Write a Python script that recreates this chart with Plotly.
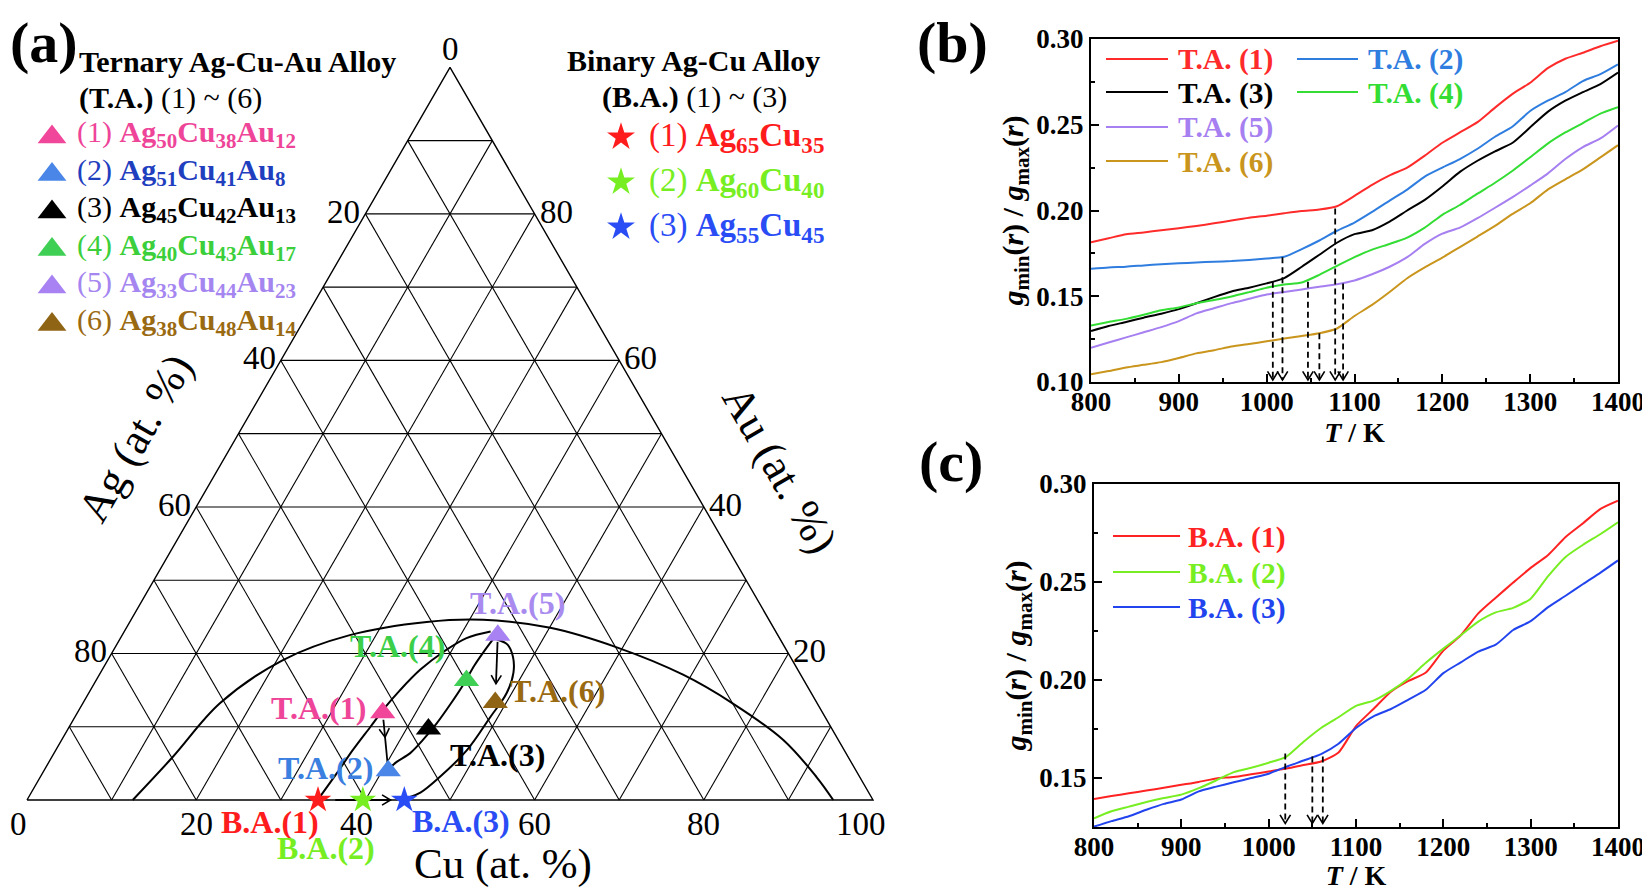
import math
import plotly.graph_objects as go

W, H = 1650, 891          # browser window
OFF = 8                   # default page margin of the html body
FW, FH = W - OFF, H - OFF # figure size so that it fills the window exactly
SERIF = "Liberation Serif, Times New Roman, serif"

# ================= DATA =================
# ---- panel (b): ternary Ag-Cu-Au alloys, g_min/g_max vs T ----
T_K = list(range(800, 1401, 20))
TA1 = [0.1815, 0.1838, 0.1862, 0.1872, 0.1885, 0.1897, 0.1910, 0.1925, 0.1942, 0.1958,
       0.1970, 0.1984, 0.1997, 0.2006, 0.2025, 0.2085, 0.2150, 0.2205, 0.2250, 0.2320,
       0.2395, 0.2455, 0.2515, 0.2600, 0.2680, 0.2745, 0.2830, 0.2885, 0.2920, 0.2958, 0.2990]
TA2 = [0.1660, 0.1668, 0.1672, 0.1680, 0.1687, 0.1692, 0.1697, 0.1701, 0.1705, 0.1712,
       0.1720, 0.1730, 0.1775, 0.1825, 0.1882, 0.1930, 0.1992, 0.2058, 0.2122, 0.2198,
       0.2250, 0.2300, 0.2360, 0.2430, 0.2490, 0.2580, 0.2640, 0.2690, 0.2755, 0.2795, 0.2852]
TA3 = [0.1297, 0.1326, 0.1350, 0.1375, 0.1398, 0.1425, 0.1459, 0.1495, 0.1528, 0.1550,
       0.1575, 0.1606, 0.1672, 0.1742, 0.1812, 0.1862, 0.1885, 0.1935, 0.2000, 0.2062,
       0.2140, 0.2225, 0.2290, 0.2345, 0.2395, 0.2485, 0.2575, 0.2640, 0.2690, 0.2737, 0.2804]
TA4 = [0.1330, 0.1350, 0.1368, 0.1392, 0.1418, 0.1435, 0.1459, 0.1478, 0.1499, 0.1524,
       0.1550, 0.1568, 0.1580, 0.1625, 0.1677, 0.1728, 0.1772, 0.1805, 0.1842, 0.1900,
       0.1975, 0.2032, 0.2098, 0.2162, 0.2232, 0.2310, 0.2390, 0.2455, 0.2510, 0.2565, 0.2602]
TA5 = [0.1200, 0.1230, 0.1260, 0.1290, 0.1320, 0.1355, 0.1400, 0.1430, 0.1460, 0.1485,
       0.1510, 0.1525, 0.1540, 0.1555, 0.1570, 0.1592, 0.1628, 0.1672, 0.1728, 0.1805,
       0.1865, 0.1900, 0.1955, 0.2016, 0.2078, 0.2145, 0.2215, 0.2300, 0.2370, 0.2420, 0.2496]
TA6 = [0.1045, 0.1064, 0.1085, 0.1100, 0.1116, 0.1140, 0.1167, 0.1185, 0.1207, 0.1222,
       0.1237, 0.1253, 0.1268, 0.1284, 0.1312, 0.1385, 0.1450, 0.1525, 0.1605, 0.1668,
       0.1725, 0.1787, 0.1848, 0.1910, 0.1980, 0.2042, 0.2122, 0.2182, 0.2240, 0.2310, 0.2381]
TA_SERIES = [TA1, TA2, TA3, TA4, TA5, TA6]
TA_NAMES = ["T.A. (1)", "T.A. (2)", "T.A. (3)", "T.A. (4)", "T.A. (5)", "T.A. (6)"]
TA_LINE_COLORS = ["#ff2a2a", "#2f7ddf", "#000000", "#33dd33", "#a67ff0", "#c9951c"]
TA_TRANS_T = [1078, 1018, 1007, 1047, 1087, 1060]
TA_TRANS_V = [0.2012, 0.1727, 0.1585, 0.1585, 0.1575, 0.1284]

# ---- panel (c): binary Ag-Cu alloys ----
BA1 = [0.1393, 0.1408, 0.1422, 0.1436, 0.1450, 0.1465, 0.1480, 0.1498, 0.1505, 0.1519,
       0.1533, 0.1548, 0.1566, 0.1584, 0.1630, 0.1765, 0.1852, 0.1940, 0.1995, 0.2038,
       0.2150, 0.2228, 0.2340, 0.2420, 0.2497, 0.2572, 0.2638, 0.2730, 0.2800, 0.2873, 0.2915]
BA2 = [0.1294, 0.1330, 0.1354, 0.1378, 0.1398, 0.1415, 0.1448, 0.1488, 0.1530, 0.1552,
       0.1578, 0.1608, 0.1685, 0.1755, 0.1810, 0.1868, 0.1895, 0.1945, 0.2008, 0.2088,
       0.2160, 0.2228, 0.2298, 0.2345, 0.2368, 0.2415, 0.2530, 0.2628, 0.2690, 0.2745, 0.2805]
BA3 = [0.1252, 0.1280, 0.1305, 0.1338, 0.1368, 0.1390, 0.1432, 0.1456, 0.1478, 0.1500,
       0.1522, 0.1557, 0.1589, 0.1622, 0.1675, 0.1755, 0.1815, 0.1852, 0.1900, 0.1950,
       0.2035, 0.2090, 0.2145, 0.2180, 0.2255, 0.2300, 0.2372, 0.2430, 0.2490, 0.2548, 0.2610]
BA_SERIES = [BA1, BA2, BA3]
BA_NAMES = ["B.A. (1)", "B.A. (2)", "B.A. (3)"]
BA_LINE_COLORS = ["#ff2222", "#77ee22", "#2244ee"]
BA_TRANS_T = [1062, 1019, 1050]
BA_TRANS_V = [0.161, 0.1625, 0.161]

# ---- panel (a): ternary composition map (Cu %, Au %) ----
GRID_LEVELS = [10, 20, 30, 40, 50, 60, 70, 80, 90]
AG_TICKS = [20, 40, 60, 80]
CU_TICKS = [0, 20, 40, 60, 80, 100]
AU_TICKS = [20, 40, 60, 80]
TA_CU = [36.1, 40.7, 42.6, 43.8, 44.4, 48.7]
TA_AU = [11.9, 4.0, 9.7, 16.3, 22.5, 13.3]
TA_MARK_COLORS = ["#f0479a", "#4a86e8", "#000000", "#3fcf55", "#a882f2", "#8f6415"]
TA_TEXT_COLORS = ["#ee4599", "#1f3fbf", "#000000", "#3ccf3c", "#a586f0", "#9a6a12"]
TA_MAP_COLORS = ["#ee4599", "#3b7fe0", "#000000", "#3ccf4a", "#a98bf0", "#9a6a12"]
TA_FORMULA = ["Ag<sub>50</sub>Cu<sub>38</sub>Au<sub>12</sub>",
              "Ag<sub>51</sub>Cu<sub>41</sub>Au<sub>8</sub>",
              "Ag<sub>45</sub>Cu<sub>42</sub>Au<sub>13</sub>",
              "Ag<sub>40</sub>Cu<sub>43</sub>Au<sub>17</sub>",
              "Ag<sub>33</sub>Cu<sub>44</sub>Au<sub>23</sub>",
              "Ag<sub>38</sub>Cu<sub>48</sub>Au<sub>14</sub>"]
BA_CU = [34.4, 39.7, 44.6]
BA_AU = [0.0, 0.0, 0.0]
BA_MARK_COLORS = ["#ff1c1c", "#77ee22", "#2a4cf5"]
BA_FORMULA = ["Ag<sub>65</sub>Cu<sub>35</sub>",
              "Ag<sub>60</sub>Cu<sub>40</sub>",
              "Ag<sub>55</sub>Cu<sub>45</sub>"]
# guide curves on the composition map
DOME_CU = [12.5, 14.3, 16.2, 20.7, 26.9, 35.1, 41.6, 50.1, 59.4, 69.0, 76.8, 85.3, 91.8, 95.3]
DOME_AU = [0.0, 5.9, 13.2, 19.1, 22.5, 24.3, 24.6, 23.5, 20.8, 17.1, 13.2, 8.2, 3.1, 0.0]
PATH1_CU = [34.4, 34.8, 35.1, 35.6, 36.0, 36.6, 37.6, 39.1, 40.9, 43.3]
PATH1_AU = [0.4, 3.7, 6.8, 10.0, 12.6, 15.0, 17.8, 20.2, 22.1, 23.0]
PATH2_CU = [40.7, 41.1, 42.1, 42.7, 43.2, 43.5, 43.7, 43.7, 43.9, 44.1]
PATH2_AU = [4.4, 5.2, 6.4, 8.2, 10.5, 13.0, 15.7, 18.4, 20.5, 21.9]
PATH3_CU = [44.9, 46.0, 47.2, 48.6, 49.1, 49.4, 48.8, 47.7, 46.2, 44.6]
PATH3_AU = [0.3, 1.0, 3.1, 6.8, 11.3, 14.6, 17.4, 19.5, 21.2, 21.9]

# ================= HELPERS =================
SQ3 = math.sqrt(3) / 2
TX0, TY0, TK = 27.0, 800.0, 8.46  # page-pixel origin and px-per-unit of panel (a)


def tern(cu, au):
    return cu + au / 2.0, au * SQ3


def a_x(px):
    return (px - TX0) / TK


def a_y(py):
    return (TY0 - py) / TK


def fx(px):   # page pixel -> paper x
    return (px - OFF) / FW


def fy(py):   # page pixel -> paper y
    return 1 - (py - OFF) / FH


fig = go.Figure()

# ---------- panel (b) ----------
for vals, col in zip(TA_SERIES, TA_LINE_COLORS):
    fig.add_trace(go.Scatter(x=T_K, y=vals, mode="lines", xaxis="x", yaxis="y",
                             line=dict(color=col, width=2, shape="spline", smoothing=0.6),
                             showlegend=False, hoverinfo="skip"))


def add_drop_arrows(ts, vs, xa, ya, bottom, head_h, head_w):
    for t0, v0 in zip(ts, vs):
        fig.add_trace(go.Scatter(x=[t0, t0], y=[v0, bottom], mode="lines", xaxis=xa, yaxis=ya,
                                 line=dict(color="black", width=1.8, dash="6px,4px"),
                                 showlegend=False, hoverinfo="skip"))
        fig.add_trace(go.Scatter(x=[t0 - head_w, t0, t0 + head_w],
                                 y=[bottom + head_h, bottom, bottom + head_h],
                                 mode="lines", xaxis=xa, yaxis=ya,
                                 line=dict(color="black", width=1.6),
                                 showlegend=False, hoverinfo="skip"))


add_drop_arrows(TA_TRANS_T, TA_TRANS_V, "x", "y", 0.1012, 0.0050, 6.0)

# ---------- panel (c) ----------
for vals, col in zip(BA_SERIES, BA_LINE_COLORS):
    fig.add_trace(go.Scatter(x=T_K, y=vals, mode="lines", xaxis="x2", yaxis="y2",
                             line=dict(color=col, width=2, shape="spline", smoothing=0.6),
                             showlegend=False, hoverinfo="skip"))
add_drop_arrows(BA_TRANS_T, BA_TRANS_V, "x2", "y2", 0.1268, 0.0044, 6.0)

# ---------- panel (a) ----------
gx, gy = [], []


def seg(p, q):
    gx.extend([p[0], q[0], None])
    gy.extend([p[1], q[1], None])


for lv in GRID_LEVELS:
    seg(tern(0, lv), tern(100 - lv, lv))        # constant Au
    seg(tern(lv, 0), tern(lv, 100 - lv))        # constant Cu
    seg(tern(100 - lv, 0), tern(0, 100 - lv))   # constant Ag
fig.add_trace(go.Scatter(x=gx, y=gy, mode="lines", xaxis="x3", yaxis="y3",
                         line=dict(color="black", width=1.1), showlegend=False, hoverinfo="skip"))
corners = [tern(0, 0), tern(100, 0), tern(0, 100), tern(0, 0)]
fig.add_trace(go.Scatter(x=[c[0] for c in corners], y=[c[1] for c in corners], mode="lines",
                         xaxis="x3", yaxis="y3", line=dict(color="black", width=1.4),
                         showlegend=False, hoverinfo="skip"))

for cus, aus in [(DOME_CU, DOME_AU), (PATH1_CU, PATH1_AU), (PATH2_CU, PATH2_AU), (PATH3_CU, PATH3_AU)]:
    pts = [tern(c, a) for c, a in zip(cus, aus)]
    fig.add_trace(go.Scatter(x=[p[0] for p in pts], y=[p[1] for p in pts], mode="lines",
                             xaxis="x3", yaxis="y3",
                             line=dict(color="black", width=2, shape="spline", smoothing=1.0),
                             showlegend=False, hoverinfo="skip"))


def arrow_between(p1, p2, f0, f1, ftip):
    dx, dy = p2[0] - p1[0], p2[1] - p1[1]
    s = (p1[0] + dx * f0, p1[1] + dy * f0)
    e = (p1[0] + dx * f1, p1[1] + dy * f1)
    tip = (p1[0] + dx * ftip, p1[1] + dy * ftip)
    ln = math.hypot(dx, dy)
    ux, uy = dx / ln, dy / ln
    nx, ny = -uy, ux
    L, Wd = 1.0, 0.6
    fig.add_trace(go.Scatter(x=[s[0], e[0]], y=[s[1], e[1]], mode="lines", xaxis="x3", yaxis="y3",
                             line=dict(color="black", width=1.8), showlegend=False, hoverinfo="skip"))
    fig.add_trace(go.Scatter(x=[tip[0] - L * ux + Wd * nx, tip[0], tip[0] - L * ux - Wd * nx],
                             y=[tip[1] - L * uy + Wd * ny, tip[1], tip[1] - L * uy - Wd * ny],
                             mode="lines", xaxis="x3", yaxis="y3",
                             line=dict(color="black", width=1.6), showlegend=False, hoverinfo="skip"))


ta_pts = [tern(c, a) for c, a in zip(TA_CU, TA_AU)]
ba_pts = [tern(c, a) for c, a in zip(BA_CU, BA_AU)]
arrow_between(ta_pts[0], ta_pts[1], 0.12, 0.85, 0.42)
arrow_between(ta_pts[4], ta_pts[5], 0.10, 0.72, 0.72)
arrow_between(ba_pts[0], ba_pts[2], 0.20, 0.84, 0.84)

fig.add_trace(go.Scatter(x=[p[0] for p in ta_pts], y=[p[1] for p in ta_pts], mode="markers",
                         xaxis="x3", yaxis="y3",
                         marker=dict(symbol="triangle-up", size=22, color=TA_MARK_COLORS, line=dict(width=0)),
                         showlegend=False, hoverinfo="skip"))
fig.add_trace(go.Scatter(x=[p[0] for p in ba_pts], y=[p[1] for p in ba_pts], mode="markers",
                         xaxis="x3", yaxis="y3",
                         marker=dict(symbol="star", size=20, color=BA_MARK_COLORS, line=dict(width=0)),
                         showlegend=False, hoverinfo="skip"))

# legend markers of panel (a)
TA_ROW0, TA_ROW_STEP = 134.0, 37.5
BA_ROW0, BA_ROW_STEP = 137.0, 45.0
fig.add_trace(go.Scatter(x=[a_x(52)] * 6, y=[a_y(TA_ROW0 + i * TA_ROW_STEP + 3) for i in range(6)],
                         mode="markers", xaxis="x3", yaxis="y3",
                         marker=dict(symbol="triangle-up", size=25, color=TA_MARK_COLORS, line=dict(width=0)),
                         showlegend=False, hoverinfo="skip"))
fig.add_trace(go.Scatter(x=[a_x(621)] * 3, y=[a_y(BA_ROW0 + i * BA_ROW_STEP) for i in range(3)],
                         mode="markers", xaxis="x3", yaxis="y3",
                         marker=dict(symbol="star", size=21, color=BA_MARK_COLORS, line=dict(width=0)),
                         showlegend=False, hoverinfo="skip"))

# ================= ANNOTATIONS =================
ann = []


def ann_a(px, py, text, size, color="black", xa="center", ya="middle", angle=0):
    ann.append(dict(x=a_x(px), y=a_y(py), xref="x3", yref="y3", text=text, showarrow=False,
                    font=dict(family=SERIF, size=size, color=color), xanchor=xa, yanchor=ya,
                    textangle=angle))


def ann_d(pt, text, size, xa, ya, xs=0, ys=0):
    ann.append(dict(x=pt[0], y=pt[1], xref="x3", yref="y3", text=text, showarrow=False,
                    font=dict(family=SERIF, size=size, color="black"), xanchor=xa, yanchor=ya,
                    xshift=xs, yshift=ys))


def ann_p(px, py, text, size, color="black", xa="left", ya="middle"):
    ann.append(dict(x=fx(px), y=fy(py), xref="paper", yref="paper", text=text, showarrow=False,
                    font=dict(family=SERIF, size=size, color=color), xanchor=xa, yanchor=ya))


# ternary tick labels
TICK_FS = 33
for g in AG_TICKS:
    ann_d(tern(0, 100 - g), str(g), TICK_FS, "right", "middle", xs=-3, ys=2)
ann_d(tern(0, 100), "0", TICK_FS, "center", "bottom", ys=-2)
CU_SHIFT = {0: -9, 40: -9, 100: -12}
for c in CU_TICKS:
    ann_d(tern(c, 0), str(c), TICK_FS, "center", "top", xs=CU_SHIFT.get(c, 0), ys=-4)
for a in AU_TICKS:
    ann_d(tern(100 - a, a), str(a), TICK_FS, "left", "middle", xs=3, ys=2)

# ternary axis titles
ann_a(135, 438, "Ag (at. %)", 44, angle=-60)
ann_a(780, 469, "Au (at. %)", 44, angle=60)
ann_a(503, 864, "Cu (at. %)", 43)

# point labels on the map
MAP_LABELS = [("T.A.(1)", 318, 708, TA_MAP_COLORS[0]), ("T.A.(2)", 325, 768, TA_MAP_COLORS[1]),
              ("T.A.(3)", 497, 755, TA_MAP_COLORS[2]), ("T.A.(4)", 397, 646, TA_MAP_COLORS[3]),
              ("T.A.(5)", 517, 603, TA_MAP_COLORS[4]), ("T.A.(6)", 557, 691, TA_MAP_COLORS[5]),
              ("B.A.(1)", 270, 822, BA_MARK_COLORS[0]), ("B.A.(2)", 326, 848, BA_MARK_COLORS[1]),
              ("B.A.(3)", 461, 821, BA_MARK_COLORS[2])]
for txt, px, py, col in MAP_LABELS:
    ann_a(px, py, "<b>%s</b>" % txt, 32, col)

# panel (a) legends
ann_a(77, 61, "<b>Ternary Ag-Cu-Au Alloy</b>", 30, xa="left")
ann_a(77, 98, "<b>(T.A.)</b> (1) ~ (6)", 30, xa="left")
for i in range(6):
    ann_a(75, TA_ROW0 + i * TA_ROW_STEP, "(%d) <b>%s</b>" % (i + 1, TA_FORMULA[i]), 30,
          TA_TEXT_COLORS[i], xa="left")
ann_a(565, 60, "<b>Binary Ag-Cu Alloy</b>", 30, xa="left")
ann_a(600, 97, "<b>(B.A.)</b> (1) ~ (3)", 30, xa="left")
for i in range(3):
    ann_a(647, BA_ROW0 + i * BA_ROW_STEP, "(%d) <b>%s</b>" % (i + 1, BA_FORMULA[i]), 33,
          BA_MARK_COLORS[i], xa="left")

# panel labels
ann_p(8, 8, "<b>(a)</b>", 58, ya="top")
ann_p(915, 8, "<b>(b)</b>", 58, ya="top")
ann_p(917, 427, "<b>(c)</b>", 58, ya="top")

# legends of panels (b) and (c)
shapes = []
LEG_B = [(1106, 1168, 1176, 59), (1297, 1358, 1366, 59), (1106, 1168, 1176, 92),
         (1297, 1358, 1366, 92), (1106, 1168, 1176, 127), (1106, 1168, 1176, 161)]
for (x0, x1, xt, yy), name, col in zip(LEG_B, TA_NAMES, TA_LINE_COLORS):
    shapes.append(dict(type="line", xref="paper", yref="paper", x0=fx(x0), x1=fx(x1),
                       y0=fy(yy), y1=fy(yy), line=dict(color=col, width=2)))
    ann_p(xt, yy + 1, "<b>%s</b>" % name, 29.5, col)
LEG_C = [(1113, 1180, 1186, 536), (1113, 1180, 1186, 572), (1113, 1180, 1186, 607)]
for (x0, x1, xt, yy), name, col in zip(LEG_C, BA_NAMES, BA_LINE_COLORS):
    shapes.append(dict(type="line", xref="paper", yref="paper", x0=fx(x0), x1=fx(x1),
                       y0=fy(yy), y1=fy(yy), line=dict(color=col, width=2)))
    ann_p(xt, yy + 1, "<b>%s</b>" % name, 29.5, col)

# ================= AXES =================
YTITLE = "<b><i>g</i><sub>min</sub>(<i>r</i>) / <i>g</i><sub>max</sub>(<i>r</i>)</b>"
TICKFONT = dict(family=SERIF, size=27, color="black", weight="bold")


def xax(domain, anchor):
    return dict(domain=domain, anchor=anchor, range=[800, 1400], tick0=800, dtick=100,
                ticks="inside", ticklen=8, tickwidth=2, tickcolor="black", ticklabelstandoff=-5,
                minor=dict(ticks="inside", ticklen=4, tickwidth=1.5, tickcolor="black",
                           dtick=50, tick0=800),
                showline=True, linewidth=2, linecolor="black", mirror=True, automargin=False,
                showgrid=False, zeroline=False, tickfont=TICKFONT,
                title=dict(text="<b><i>T</i> / K</b>", font=dict(family=SERIF, size=28, color="black"),
                           standoff=3))


def yax(domain, anchor, rng):
    return dict(domain=domain, anchor=anchor, range=rng, tick0=0.10, dtick=0.05, tickformat=".2f",
                ticks="inside", ticklen=8, tickwidth=2, tickcolor="black",
                minor=dict(ticks="inside", ticklen=4, tickwidth=1.5, tickcolor="black",
                           dtick=0.025, tick0=0.10),
                showline=True, linewidth=2, linecolor="black", mirror=True, automargin=False,
                showgrid=False, zeroline=False, tickfont=TICKFONT,
                title=dict(text=YTITLE, font=dict(family=SERIF, size=30, color="black"), standoff=4))


fig.update_layout(
    template="none",
    width=FW, height=FH, margin=dict(l=0, r=0, t=0, b=0, pad=0, autoexpand=False),
    paper_bgcolor="white", plot_bgcolor="rgba(0,0,0,0)", showlegend=False,
    font=dict(family=SERIF, color="black"),
    xaxis=xax([fx(1091), fx(1618)], "y"),
    yaxis=yax([fy(382), fy(39)], "x", [0.10, 0.30]),
    xaxis2=xax([fx(1094), fx(1618)], "y2"),
    yaxis2=yax([fy(827), fy(484)], "x2", [0.125, 0.30]),
    xaxis3=dict(domain=[0, fx(900)], anchor="y3", range=[a_x(OFF), a_x(900)], visible=False,
                automargin=False),
    yaxis3=dict(domain=[0, 1], anchor="x3", range=[a_y(H), a_y(OFF)], visible=False,
                automargin=False),
    annotations=ann, shapes=shapes,
)

fig.write_html("out.html")
